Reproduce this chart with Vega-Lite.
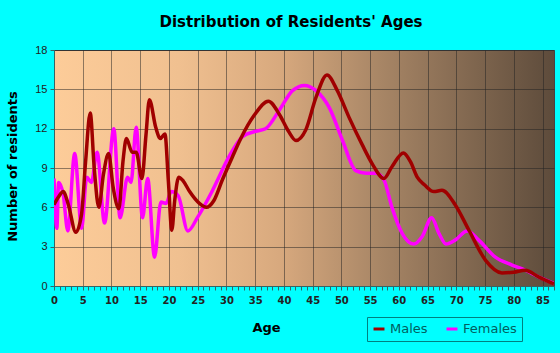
{
  "$schema": "https://vega.github.io/schema/vega-lite/v6.json",
  "autosize": "none",
  "width": 500,
  "height": 236,
  "padding": {"left": 54, "top": 50, "right": 6, "bottom": 67},
  "background": "#00ffff",
  "title": {
    "text": "Distribution of Residents' Ages",
    "font": "DejaVu Sans",
    "fontSize": 15,
    "fontWeight": "bold",
    "color": "#000000",
    "anchor": "middle",
    "dx": -13,
    "offset": 14
  },
  "data": {
    "values": [
      {"age": 0, "count": 8.2, "sex": "Females"},
      {"age": 0.5, "count": 4.4, "sex": "Females"},
      {"age": 0.8, "count": 7.9, "sex": "Females"},
      {"age": 1.6, "count": 7.0, "sex": "Females"},
      {"age": 2.4, "count": 4.2, "sex": "Females"},
      {"age": 3.6, "count": 10.1, "sex": "Females"},
      {"age": 4.8, "count": 4.4, "sex": "Females"},
      {"age": 5.7, "count": 8.3, "sex": "Females"},
      {"age": 6.5, "count": 7.9, "sex": "Females"},
      {"age": 7.5, "count": 10.2, "sex": "Females"},
      {"age": 8.8, "count": 4.8, "sex": "Females"},
      {"age": 10.4, "count": 12.0, "sex": "Females"},
      {"age": 11.5, "count": 5.2, "sex": "Females"},
      {"age": 12.8, "count": 8.3, "sex": "Females"},
      {"age": 13.4, "count": 7.9, "sex": "Females"},
      {"age": 14.3, "count": 12.1, "sex": "Females"},
      {"age": 15.4, "count": 5.2, "sex": "Females"},
      {"age": 16.3, "count": 8.2, "sex": "Females"},
      {"age": 17.5, "count": 2.2, "sex": "Females"},
      {"age": 18.6, "count": 6.4, "sex": "Females"},
      {"age": 19.5, "count": 6.3, "sex": "Females"},
      {"age": 20.4, "count": 7.2, "sex": "Females"},
      {"age": 21.6, "count": 6.9, "sex": "Females"},
      {"age": 23.3, "count": 4.2, "sex": "Females"},
      {"age": 25, "count": 5.25, "sex": "Females"},
      {"age": 27.6, "count": 7.3, "sex": "Females"},
      {"age": 30.5, "count": 9.9, "sex": "Females"},
      {"age": 32.8, "count": 11.4, "sex": "Females"},
      {"age": 35.1, "count": 11.8, "sex": "Females"},
      {"age": 36.8, "count": 12.0, "sex": "Females"},
      {"age": 39.2, "count": 13.4, "sex": "Females"},
      {"age": 41.5, "count": 14.9, "sex": "Females"},
      {"age": 43.6, "count": 15.3, "sex": "Females"},
      {"age": 45.6, "count": 14.9, "sex": "Females"},
      {"age": 47.9, "count": 13.6, "sex": "Females"},
      {"age": 50.2, "count": 11.1, "sex": "Females"},
      {"age": 52.5, "count": 8.8, "sex": "Females"},
      {"age": 54.3, "count": 8.6, "sex": "Females"},
      {"age": 56, "count": 8.6, "sex": "Females"},
      {"age": 57.4, "count": 8.1, "sex": "Females"},
      {"age": 58.8, "count": 6.0, "sex": "Females"},
      {"age": 60.6, "count": 4.0, "sex": "Females"},
      {"age": 62.6, "count": 3.2, "sex": "Females"},
      {"age": 64.1, "count": 3.8, "sex": "Females"},
      {"age": 65.7, "count": 5.2, "sex": "Females"},
      {"age": 67, "count": 4.0, "sex": "Females"},
      {"age": 68.2, "count": 3.2, "sex": "Females"},
      {"age": 69.8, "count": 3.5, "sex": "Females"},
      {"age": 71.9, "count": 4.2, "sex": "Females"},
      {"age": 73.9, "count": 3.5, "sex": "Females"},
      {"age": 76.8, "count": 2.2, "sex": "Females"},
      {"age": 79.7, "count": 1.6, "sex": "Females"},
      {"age": 82, "count": 1.2, "sex": "Females"},
      {"age": 84.3, "count": 0.7, "sex": "Females"},
      {"age": 87, "count": 0.2, "sex": "Females"},
      {"age": 0, "count": 6.2, "sex": "Males"},
      {"age": 0.8, "count": 6.8, "sex": "Males"},
      {"age": 1.6, "count": 7.2, "sex": "Males"},
      {"age": 2.5, "count": 6.2, "sex": "Males"},
      {"age": 3.8, "count": 4.1, "sex": "Males"},
      {"age": 4.8, "count": 5.5, "sex": "Males"},
      {"age": 5.5, "count": 9.5, "sex": "Males"},
      {"age": 6.3, "count": 13.2, "sex": "Males"},
      {"age": 7, "count": 9.0, "sex": "Males"},
      {"age": 7.8, "count": 6.0, "sex": "Males"},
      {"age": 8.6, "count": 8.5, "sex": "Males"},
      {"age": 9.5, "count": 10.1, "sex": "Males"},
      {"age": 10.3, "count": 7.5, "sex": "Males"},
      {"age": 11.3, "count": 5.9, "sex": "Males"},
      {"age": 12, "count": 9.5, "sex": "Males"},
      {"age": 12.6, "count": 11.25, "sex": "Males"},
      {"age": 13.6, "count": 10.2, "sex": "Males"},
      {"age": 14.3, "count": 10.2, "sex": "Males"},
      {"age": 15.3, "count": 8.2, "sex": "Males"},
      {"age": 16, "count": 11.5, "sex": "Males"},
      {"age": 16.6, "count": 14.2, "sex": "Males"},
      {"age": 17.7, "count": 12.1, "sex": "Males"},
      {"age": 18.5, "count": 11.25, "sex": "Males"},
      {"age": 19.3, "count": 11.6, "sex": "Males"},
      {"age": 19.9, "count": 8.0, "sex": "Males"},
      {"age": 20.5, "count": 4.25, "sex": "Males"},
      {"age": 21, "count": 6.5, "sex": "Males"},
      {"age": 21.7, "count": 8.3, "sex": "Males"},
      {"age": 22.5, "count": 8.0, "sex": "Males"},
      {"age": 23.6, "count": 7.2, "sex": "Males"},
      {"age": 25.3, "count": 6.3, "sex": "Males"},
      {"age": 26.5, "count": 6.0, "sex": "Males"},
      {"age": 27.8, "count": 6.5, "sex": "Males"},
      {"age": 29.3, "count": 8.1, "sex": "Males"},
      {"age": 31, "count": 9.8, "sex": "Males"},
      {"age": 32.5, "count": 11.25, "sex": "Males"},
      {"age": 34.8, "count": 13.0, "sex": "Males"},
      {"age": 37.3, "count": 14.1, "sex": "Males"},
      {"age": 39.2, "count": 13.1, "sex": "Males"},
      {"age": 40.8, "count": 11.8, "sex": "Males"},
      {"age": 42.1, "count": 11.1, "sex": "Males"},
      {"age": 43.8, "count": 11.9, "sex": "Males"},
      {"age": 45.6, "count": 14.4, "sex": "Males"},
      {"age": 47.5, "count": 16.1, "sex": "Males"},
      {"age": 49.3, "count": 14.9, "sex": "Males"},
      {"age": 51.3, "count": 12.9, "sex": "Males"},
      {"age": 53.6, "count": 10.8, "sex": "Males"},
      {"age": 55.4, "count": 9.3, "sex": "Males"},
      {"age": 57.4, "count": 8.2, "sex": "Males"},
      {"age": 58.8, "count": 9.1, "sex": "Males"},
      {"age": 60.8, "count": 10.15, "sex": "Males"},
      {"age": 62, "count": 9.5, "sex": "Males"},
      {"age": 63.2, "count": 8.3, "sex": "Males"},
      {"age": 64.5, "count": 7.7, "sex": "Males"},
      {"age": 66.1, "count": 7.2, "sex": "Males"},
      {"age": 67.5, "count": 7.3, "sex": "Males"},
      {"age": 69.8, "count": 6.2, "sex": "Males"},
      {"age": 72.2, "count": 4.25, "sex": "Males"},
      {"age": 75.1, "count": 1.96, "sex": "Males"},
      {"age": 77.95, "count": 1.0, "sex": "Males"},
      {"age": 80, "count": 1.05, "sex": "Males"},
      {"age": 82, "count": 1.2, "sex": "Males"},
      {"age": 84.3, "count": 0.7, "sex": "Males"},
      {"age": 87, "count": 0.15, "sex": "Males"}
    ]
  },
  "mark": {"type": "line", "interpolate": "monotone", "strokeWidth": 3.5, "clip": true},
  "encoding": {
    "x": {
      "field": "age",
      "type": "quantitative",
      "scale": {"domain": [0, 87], "nice": false, "zero": false},
      "axis": {
        "title": "Age",
        "values": [0,1,2,3,4,5,6,7,8,9,10,11,12,13,14,15,16,17,18,19,20,21,22,23,24,25,26,27,28,29,30,31,32,33,34,35,36,37,38,39,40,41,42,43,44,45,46,47,48,49,50,51,52,53,54,55,56,57,58,59,60,61,62,63,64,65,66,67,68,69,70,71,72,73,74,75,76,77,78,79,80,81,82,83,84,85,86,87],
        "labelExpr": "datum.value % 5 == 0 ? datum.label : ''",
        "labelFlush": false,
        "labelOverlap": false,
        "labelFont": "DejaVu Sans",
        "labelFontSize": 10,
        "labelFontWeight": "bold",
        "labelPadding": 5,
        "gridOpacity": {"condition": {"test": "datum.value % 5 == 0 && datum.value > 0", "value": 0.5}, "value": 0},
        "tickSize": 4,
        "titleX": 212,
        "titleY": 41,
        "titleBaseline": "middle",
        "titleAlign": "center"
      }
    },
    "y": {
      "field": "count",
      "type": "quantitative",
      "scale": {"domain": [0, 18], "nice": false},
      "axis": {
        "title": "Number of residents",
        "values": [0, 3, 6, 9, 12, 15, 18],
        "tickSize": 4,
        "gridOpacity": {"condition": {"test": "datum.value > 0", "value": 0.5}, "value": 0},
        "titleX": -42,
        "titleY": 116,
        "titleAngle": -90,
        "titleBaseline": "middle",
        "titleAlign": "center"
      }
    },
    "color": {
      "field": "sex",
      "type": "nominal",
      "scale": {"domain": ["Males", "Females"], "range": ["#a00000", "#ff00ff"]},
      "legend": {
        "title": null,
        "orient": "none",
        "legendX": 313,
        "legendY": 267,
        "direction": "horizontal",
        "strokeColor": "#008080",
        "padding": 5,
        "symbolType": "stroke",
        "symbolStrokeWidth": 3,
        "symbolSize": 120,
        "labelFontSize": 13,
        "labelFont": "DejaVu Sans",
        "labelColor": "#006060",
        "columnPadding": 12,
        "symbolOffset": 0
      }
    }
  },
  "config": {
    "view": {
      "stroke": "#444444",
      "strokeWidth": 1,
      "fill": {
        "gradient": "linear",
        "x1": 0, "y1": 0, "x2": 1, "y2": 0,
        "stops": [
          {"offset": 0, "color": "#fdcc99"},
          {"offset": 0.25, "color": "#f0c090"},
          {"offset": 0.45, "color": "#d8a97e"},
          {"offset": 0.65, "color": "#a88666"},
          {"offset": 1, "color": "#5d4b3b"}
        ]
      }
    },
    "axis": {
      "gridColor": "#222222",
      "gridWidth": 1,
      "domainColor": "#336666",
      "tickColor": "#336666",
      "labelFont": "Liberation Sans",
      "labelFontSize": 11,
      "labelColor": "#222222",
      "titleFont": "DejaVu Sans",
      "titleFontSize": 13,
      "titleFontWeight": "bold",
      "titleColor": "#000000",
      "labelPadding": 3
    }
  }
}
